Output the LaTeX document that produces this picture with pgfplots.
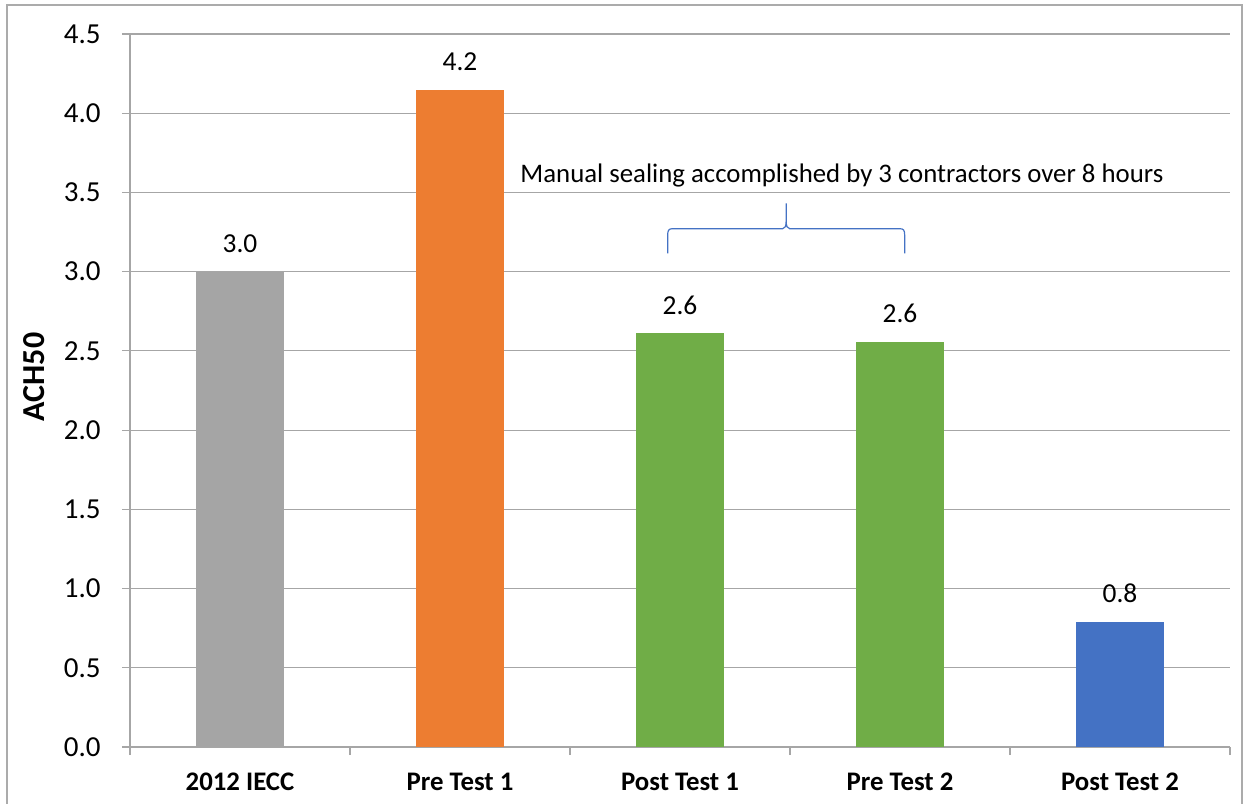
\documentclass[border=0pt]{standalone}
\usepackage{fontspec}
\setmainfont{Carlito}
\usepackage{pgfplots}
\pgfplotsset{compat=1.18}
\definecolor{cgray}{HTML}{A5A5A5}
\definecolor{corange}{HTML}{ED7D31}
\definecolor{cgreen}{HTML}{70AD47}
\definecolor{cblue}{HTML}{4472C4}
\definecolor{axgray}{HTML}{A6A6A6}
\definecolor{framegray}{HTML}{ABABAB}
\begin{document}
\begin{tikzpicture}
\begin{axis}[
  scale only axis, width=550pt, height=356.5pt,
  clip=false,
  xmin=-0.5, xmax=4.5, ymin=0, ymax=4.5,
  ybar, bar width=44pt,
  axis x line*=bottom, axis y line*=left,
  axis line style={-, draw=axgray, line width=0.6pt},
  xtick={-0.5,0.5,1.5,2.5,3.5,4.5},
  x tick label as interval=true,
  xticklabels={2012 IECC, Pre Test 1, Post Test 1, Pre Test 2, Post Test 2},
  xticklabel style={font=\fontsize{13.4}{16}\selectfont\bfseries, inner sep=0pt, yshift=-9pt},
  ytick={0,0.5,...,4.5},
  ymajorgrids,
  grid style={draw=axgray, line width=0.6pt},
  tick style={draw=axgray, line width=0.6pt},
  tick align=outside, major tick length=4pt,
  yticklabel style={font=\fontsize{14.5}{17}\selectfont, inner sep=0pt, xshift=-10.5pt,
    /pgf/number format/.cd, fixed, fixed zerofill, precision=1, assume math mode=true},
  ylabel={ACH50},
  ylabel style={font=\fontsize{16}{19}\selectfont\bfseries, at={(rel axis cs:-0.0873,0.519)}, anchor=center},
  nodes near coords,
  point meta=explicit symbolic,
  every node near coord/.append style={font=\fontsize{13.7}{16}\selectfont, inner sep=0pt, text depth=0pt, anchor=south, yshift=9.5pt, text=black},
]
\addplot[fill=cgray, draw=none, bar shift=0pt] coordinates {(0,3.0) [3.0]};
\addplot[fill=corange, draw=none, bar shift=0pt] coordinates {(1,4.147) [4.2]};
\addplot[fill=cgreen, draw=none, bar shift=0pt] coordinates {(2,2.61) [2.6]};
\addplot[fill=cgreen, draw=none, bar shift=0pt] coordinates {(3,2.555) [2.6]};
\addplot[fill=cblue, draw=none, bar shift=0pt] coordinates {(4,0.787) [0.8]};

\coordinate (L) at (axis cs:1.944,3.116);
\node[anchor=base, font=\fontsize{13.4}{16}\selectfont, inner sep=0pt] at (axis cs:2.736,3.56)
  {Manual sealing accomplished by 3 contractors over 8 hours};

\draw[framegray, line width=1pt] (rel axis cs:-0.1118,-0.2) -- (rel axis cs:-0.1118,1.0407)
  -- (rel axis cs:1.0109,1.0407) -- (rel axis cs:1.0109,-0.2);
\coordinate (bbSW) at (rel axis cs:-0.11818,-0.07854);
\coordinate (bbNE) at (rel axis cs:1.01273,1.04769);
\end{axis}
\begin{scope}[shift={(L)}]
\draw[cblue, line width=0.6pt] (0,0) -- (0pt,9pt) .. controls (0pt,11.5pt) and (0.5pt,12.3pt) .. (2.5pt,12.3pt)
  -- (57.5pt,12.3pt) .. controls (58.7pt,12.3pt) and (59.25pt,13.5pt) .. (59.25pt,16.5pt)
  -- (59.25pt,25pt) -- (59.25pt,16.5pt) .. controls (59.25pt,13.5pt) and (59.8pt,12.3pt) .. (61pt,12.3pt)
  -- (116pt,12.3pt) .. controls (118pt,12.3pt) and (118.5pt,11.5pt) .. (118.5pt,9pt) -- (118.5pt,0pt);
\end{scope}
\pgfresetboundingbox
\useasboundingbox (bbSW) rectangle (bbNE);
\end{tikzpicture}
\end{document}
